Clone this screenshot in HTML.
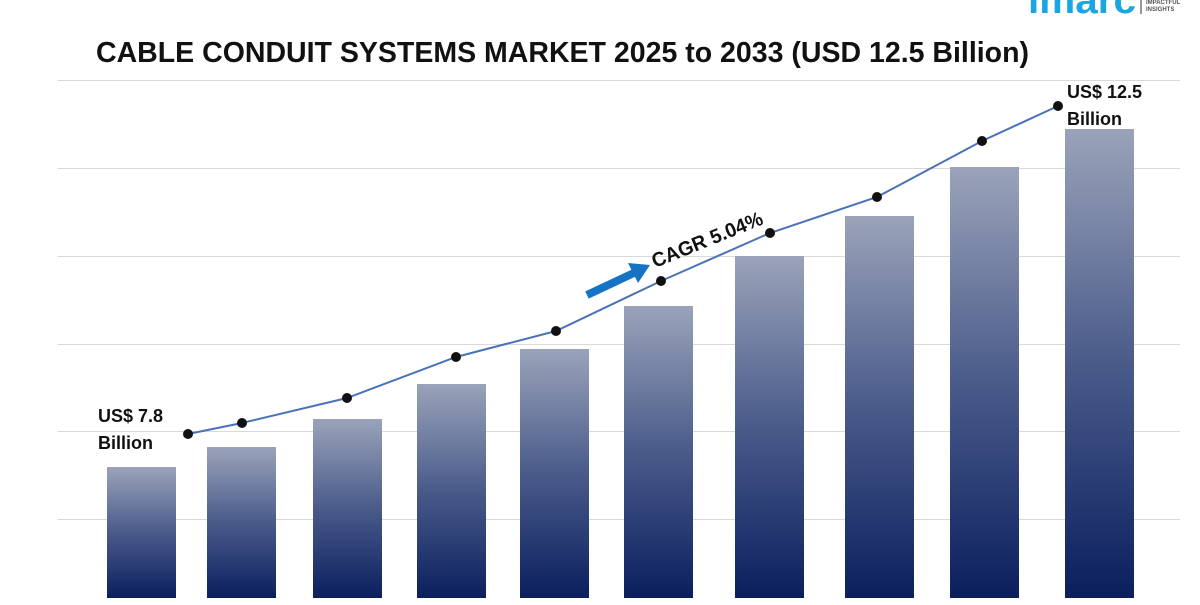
<!DOCTYPE html>
<html><head><style>
body{margin:0;width:1200px;height:600px;background:#fff;overflow:hidden;font-family:"Liberation Sans",sans-serif}
</style></head><body>
<svg width="1200" height="600" xmlns="http://www.w3.org/2000/svg">
<defs>
<linearGradient id="g" x1="0" y1="0" x2="0" y2="1">
<stop offset="0" stop-color="#9aa3b9"/><stop offset="0.5" stop-color="#4a5b8a"/><stop offset="1" stop-color="#0b1f5e"/>
</linearGradient>
</defs>
<g stroke="#d9d9d9" stroke-width="1">
<line x1="58" y1="80.5" x2="1180" y2="80.5"/><line x1="58" y1="168.5" x2="1180" y2="168.5"/>
<line x1="58" y1="256.5" x2="1180" y2="256.5"/><line x1="58" y1="344.5" x2="1180" y2="344.5"/>
<line x1="58" y1="431.5" x2="1180" y2="431.5"/><line x1="58" y1="519.5" x2="1180" y2="519.5"/>
</g>
<g fill="url(#g)">
<rect x="107" y="467" width="69" height="131"/>
<rect x="207" y="447" width="69" height="151"/>
<rect x="313" y="419" width="69" height="179"/>
<rect x="417" y="384" width="69" height="214"/>
<rect x="520" y="349" width="69" height="249"/>
<rect x="624" y="306" width="69" height="292"/>
<rect x="735" y="256" width="69" height="342"/>
<rect x="845" y="216" width="69" height="382"/>
<rect x="950" y="167" width="69" height="431"/>
<rect x="1065" y="129" width="69" height="469"/>
</g>
<polyline fill="none" stroke="#4a72b8" stroke-width="2" points="188,434 242,423 347,398 456,357 556,331 661,281 770,233 877,197 982,141 1058,106"/>
<g fill="#111">
<circle cx="188" cy="434" r="5"/><circle cx="242" cy="423" r="5"/><circle cx="347" cy="398" r="5"/>
<circle cx="456" cy="357" r="5"/><circle cx="556" cy="331" r="5"/><circle cx="661" cy="281" r="5"/>
<circle cx="770" cy="233" r="5"/><circle cx="877" cy="197" r="5"/><circle cx="982" cy="141" r="5"/>
<circle cx="1058" cy="106" r="5"/>
</g>
<line x1="587" y1="295" x2="636" y2="272" stroke="#1572c4" stroke-width="8"/>
<polygon points="650,265 628,263 638,283" fill="#1572c4"/>
<text x="655" y="268" transform="rotate(-22 655 268)" font-size="20" font-weight="bold" fill="#111" textLength="118" lengthAdjust="spacingAndGlyphs">CAGR 5.04%</text>
<text x="98" y="422" font-size="18" font-weight="bold" fill="#111">US$ 7.8</text>
<text x="98" y="449" font-size="18" font-weight="bold" fill="#111">Billion</text>
<text x="1067" y="98" font-size="18" font-weight="bold" fill="#111">US$ 12.5</text>
<text x="1067" y="125" font-size="18" font-weight="bold" fill="#111">Billion</text>
<text x="96" y="62" font-size="29" font-weight="bold" fill="#111" textLength="933" lengthAdjust="spacingAndGlyphs">CABLE CONDUIT SYSTEMS MARKET 2025 to 2033 (USD 12.5 Billion)</text>
<text x="1028" y="13" font-size="38" font-weight="bold" fill="#1aa6e0" textLength="108" lengthAdjust="spacingAndGlyphs">imarc</text>
<line x1="1141" y1="0" x2="1141" y2="14" stroke="#333" stroke-width="1"/>
<text x="1146" y="4" font-size="6" font-weight="bold" fill="#555">IMPACTFUL</text>
<text x="1146" y="11" font-size="6" font-weight="bold" fill="#555">INSIGHTS</text>
</svg>
</body></html>
